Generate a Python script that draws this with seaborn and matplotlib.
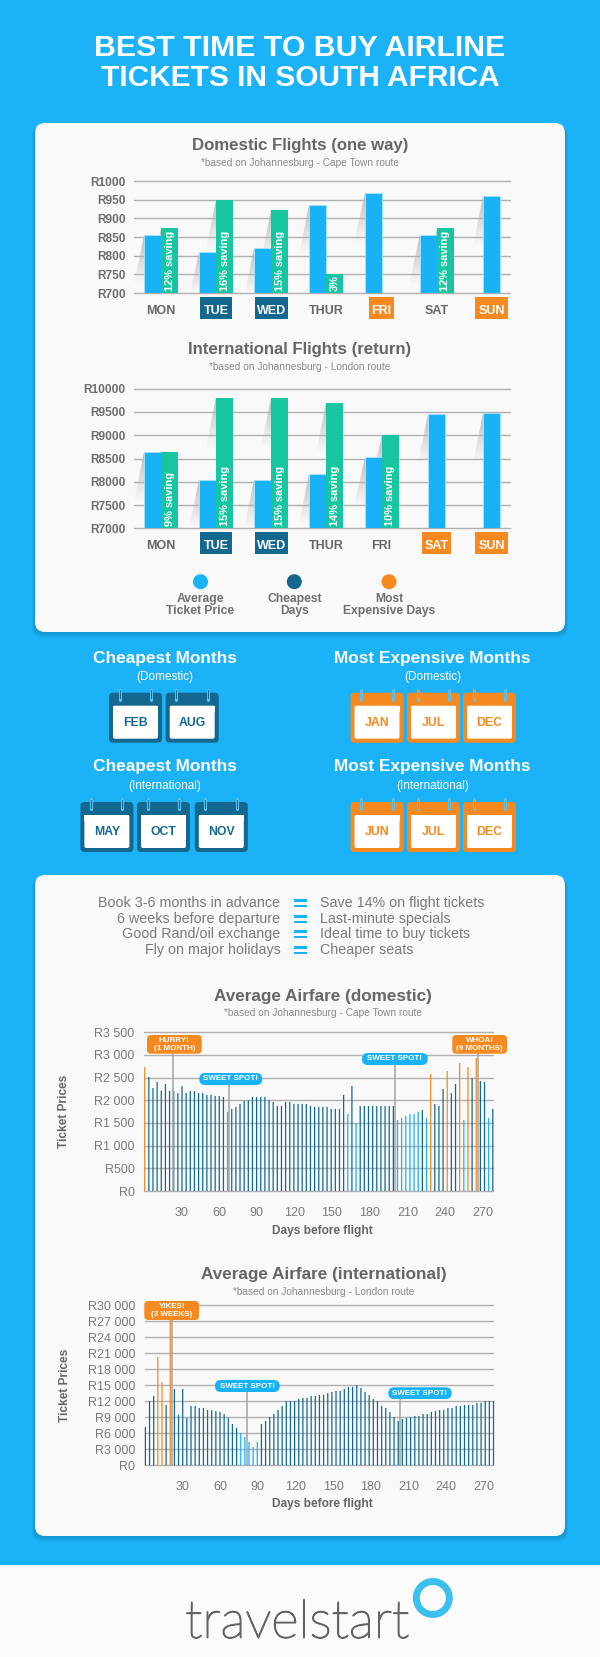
import numpy as np
import pandas as pd
import matplotlib
matplotlib.use("Agg")
import matplotlib.pyplot as plt
import matplotlib.patheffects as pe
from matplotlib.patches import FancyBboxPatch, Rectangle, Circle, Polygon
import seaborn as sns

# ---------- data ----------
days_a = ['MON', 'TUE', 'WED', 'THUR', 'FRI', 'SAT', 'SUN']
dom_avg = [855, 811, 820, 935, 968, 855, 960]
dom_cheap = [874, 950, 923, 750, None, 874, None]
dom_saving = ['12% saving', '16% saving', '15% saving', '3%', None, '12% saving', None]
dom_day_kind = ['', 'cheap', 'cheap', '', 'dear', '', 'dear']
dom_solo_centered = [False, False, False, False, False, False, True]
dom_ticks = [700, 750, 800, 850, 900, 950, 1000]

int_avg = [8640, 8030, 8045, 8167, 8525, 9449, 9484]
int_cheap = [8640, 9800, 9800, 9692, 9000, None, None]
int_saving = ['9% saving', '15% saving', '15% saving', '14% saving', '10% saving', None, None]
int_day_kind = ['', 'cheap', 'cheap', '', '', 'dear', 'dear']
int_solo_centered = [False, False, False, False, False, True, True]
int_ticks = [7000, 7500, 8000, 8500, 9000, 9500, 10000]

legend_labels = ['Average\nTicket Price', 'Cheapest\nDays', 'Most\nExpensive Days']
advice_left = ['Book 3-6 months in advance', '6 weeks before departure',
               'Good Rand/oil exchange', 'Fly on major holidays']
advice_right = ['Save 14% on flight tickets', 'Last-minute specials',
                'Ideal time to buy tickets', 'Cheaper seats']
cheap_dom_months = ['FEB', 'AUG']
dear_dom_months = ['JAN', 'JUL', 'DEC']
cheap_int_months = ['MAY', 'OCT', 'NOV']
dear_int_months = ['JUN', 'JUL', 'DEC']

air_dom = [2735, 2515, 2270, 2405, 2215, 2360, 2205, 2205, 2160, 2315, 2160, 2205, 2205, 2160, 2160,
           2120, 2120, 2095, 2095, 2075, 1745, 1810, 1855, 1920, 1985, 2005, 2075, 2075, 2075, 2075,
           2005, 1965, 1875, 1875, 1965, 1965, 1920, 1920, 1920, 1920, 1875, 1855, 1855, 1855, 1855,
           1810, 1810, 1810, 2120, 1700, 2315, 1500, 1875, 1875, 1875, 1875, 1875, 1875, 1875, 1875,
           1875, 1565, 1610, 1655, 1700, 1700, 1745, 1785, 1610, 2580, 1920, 1875, 2250, 2645, 2160,
           2360, 2825, 1565, 2735, 2490, 2935, 2425, 2405, 1610, 1810]
air_dom_kind = list('ODDDDDDDDDDDDDDDDDDDLDDDDDDDDDDDDDDDDDDDDDDDDDDDDLDLDDDDDDDDDLLLLLLDLODDDODDOLODODDLD')
air_dom_ticks = [0, 500, 1000, 1500, 2000, 2500, 3000, 3500]
air_dom_ticklabels = ['R0', 'R500', 'R1 000', 'R1 500', 'R2 000', 'R2 500', 'R3 000', 'R3 500']

air_int = [7190, 12060, 13000, 20310, 15625, 11310, 27500, 14310, 9440, 14310, 8875, 11125, 11125, 10750,
           10750, 10375, 10375, 10190, 10000, 9625, 8875, 7750, 7000, 6060, 5310, 4375, 3440, 4375, 7750,
           8310, 9060, 9625, 10375, 11125, 12060, 12060, 12060, 12440, 12625, 12625, 13000, 13000, 13190,
           13190, 13560, 13750, 13940, 13940, 14310, 14690, 14690, 15060, 14500, 13750, 13190, 12440, 12060,
           11125, 10750, 10000, 9060, 8310, 8690, 8875, 9060, 9250, 9250, 9625, 9625, 10000, 10190, 10375,
           10375, 10750, 10750, 11125, 11125, 11310, 11310, 11310, 11690, 11690, 12060, 12060, 12060]
air_int_kind = list('DDDOODODDDDDDDDDDDDDDDDLLLLLD' + 'D' * 56)
air_int_ticks = list(range(0, 30001, 3000))
air_int_ticklabels = ['R0', 'R3 000', 'R6 000', 'R9 000', 'R12 000', 'R15 000', 'R18 000',
                      'R21 000', 'R24 000', 'R27 000', 'R30 000']
day_ticks = list(range(30, 271, 30))

# callouts: label, day, top value
dom_callouts = [('HURRY!\n(1 MONTH)', 23.6, 3040), ('SWEET SPOT!', 68, 2340),
                ('SWEET SPOT!', 200, 2800), ('WHOA!\n(9 MONTHS)', 266, 3040)]
int_callouts = [('YIKES!\n(3 WEEKS)', 22, 27200), ('SWEET SPOT!', 81.8, 13800),
                ('SWEET SPOT!', 203.6, 12430)]

# ---------- style ----------
BG = '#1bb2f7'; CARD = '#f9f9f9'; LIGHT = '#1ab2f7'; GREEN = '#17c6a0'
DARK = '#14688f'; ORANGE = '#f6891f'; GRAY = '#666666'; GRAY2 = '#7a7a7a'; GRID = '#b0b0b0'
W, H = 600, 1657

sns.set_theme(style='white')
plt.rcParams['font.family'] = ['Liberation Sans', 'DejaVu Sans']
fig = plt.figure(figsize=(W / 100, H / 100), dpi=100, facecolor=BG)


def px_axes(z):
    a = fig.add_axes([0, 0, 1, 1], zorder=z)
    a.set_xlim(0, W); a.set_ylim(H, 0); a.axis('off')
    return a


bg = px_axes(0)
top = px_axes(10)


def rbox(a, x0, y0, x1, y1, r, color, alpha=1.0, z=2):
    p = FancyBboxPatch((x0 + r, y0 + r), x1 - x0 - 2 * r, y1 - y0 - 2 * r,
                       boxstyle=f'round,pad={r},rounding_size={r}', fc=color, ec='none', alpha=alpha, zorder=z)
    a.add_patch(p)
    return p


def T(a, x, y, s, size, color=GRAY, weight='normal', ha='center', va='center', **kw):
    return a.text(x, y, s, fontsize=size, color=color, fontweight=weight, ha=ha, va=va, **kw)


def card(y0, y1):
    for k in range(7, 0, -1):
        rbox(bg, 35 - k * .4, y0 + k * .5, 565 + k * .4, y1 + k * .9, 10, '#0a5f8f', alpha=.055, z=1)
    rbox(bg, 35, y0, 565, y1, 10, CARD, z=2)


def chart_axes(L, Tp, R, B):
    return fig.add_axes([L / W, 1 - B / H, (R - L) / W, (B - Tp) / H], zorder=5, facecolor='none')


def ax_xy(L, Tp, R, B, px, py):
    return (px - L) / (R - L), (B - py) / (B - Tp)


def clean(ax):
    for s in ax.spines.values():
        s.set_visible(False)
    ax.set_axisbelow(True)
    ax.yaxis.grid(True, color=GRID, lw=1.0)
    ax.xaxis.grid(False)
    ax.tick_params(length=0)
    for g in ax.get_ygridlines():
        g.set_clip_on(False)


# header / footer
T(bg, 300, 47.5, 'BEST TIME TO BUY AIRLINE', 21.8, 'white', 'bold')
T(bg, 300, 77.5, 'TICKETS IN SOUTH AFRICA', 21.5, 'white', 'bold')
bg.add_patch(Rectangle((0, 1565), W, H - 1565, fc='#fbfbfb', ec='none', zorder=1))
card(123, 632)
card(875, 1536)


def add_shadows(ax, B):
    grad = np.zeros((64, 1, 4))
    grad[..., :3] = 0.42
    grad[..., 3] = np.linspace(.42, 0, 64)[:, None]
    for r in ax.patches:
        (x0, _), (_, y1) = ax.transData.transform([(r.get_x(), 0), (r.get_x(), r.get_height())])
        left, tp = x0, H - y1
        L = min(50, B - tp)
        poly = Polygon([(left, tp), (left, tp + L), (left - .21 * L, tp + L)], closed=True, transform=bg.transData)
        im = bg.imshow(grad, extent=(left - .21 * L, left, tp + L, tp), aspect='auto', zorder=3,
                       interpolation='bilinear')
        im.set_clip_path(poly)
    bg.set_xlim(0, W); bg.set_ylim(H, 0)


def day_chart(Tp, B, avg, cheap, savings, kinds, solo, ticks, title, sub, title_y, sub_y, label_pad):
    L, R = 134, 510
    ax = chart_axes(L, Tp, R, B)
    step = 55.1; bw = 17 / step; x0 = 161.1
    pos = np.arange(len(days_a), dtype=float)
    off_avg = np.array([0 if s else -bw / 2 for s in solo])
    sns.barplot(x=pos + off_avg, y=avg, native_scale=True, width=bw, color=LIGHT, saturation=1,
                errorbar=None, linewidth=.6, edgecolor='#a9e0fb', ax=ax)
    g = pd.DataFrame({'x': pos + bw / 2, 'y': cheap}).dropna()
    sns.barplot(x=g['x'].values, y=g['y'].values, native_scale=True, width=bw, color=GREEN, saturation=1,
                errorbar=None, linewidth=0, ax=ax)
    ax.set_xlim((L - x0) / step, (R - x0) / step)
    ax.set_ylim(ticks[0], ticks[-1])
    ax.set_yticks(ticks)
    ax.set_yticklabels([f'R{t}' for t in ticks], fontsize=8.6, color='#6e6e6e', fontweight='bold')
    ax.set_xticks(pos)
    ax.set_xticklabels(days_a, fontsize=9, fontweight='bold', color=GRAY)
    clean(ax)
    ax.tick_params(axis='y', pad=6)
    ax.tick_params(axis='x', pad=label_pad)
    ax.set(xlabel='', ylabel='')
    tx, ty = ax_xy(L, Tp, R, B, 300, title_y)
    ax.set_title(title, x=tx, y=ty, pad=0, fontsize=12.1, fontweight='bold', color=GRAY, va='center')
    T(bg, 300, sub_y, sub, 7.3, '#8a8a8a')
    for p, s in zip(pos, savings):
        if s:
            ax.annotate(s, (p + bw / 2, ticks[0]), xytext=(0, 1.5), textcoords='offset points', rotation=90,
                        ha='center', va='bottom', color='white', fontsize=7.9, fontweight='bold')
    for lbl, k, p in zip(ax.get_xticklabels(), kinds, pos):
        if k:
            lbl.set_color('white')
            w = {'TUE': 32, 'WED': 33.5, 'FRI': 25, 'SAT': 29, 'SUN': 32.5}[lbl.get_text()]
            cx = x0 + p * step
            bg.add_patch(Rectangle((cx - w / 2, B + 4), w, 22, fc=DARK if k == 'cheap' else ORANGE, ec='none', zorder=4))
    add_shadows(ax, B)
    return ax


day_chart(181, 293, dom_avg, dom_cheap, dom_saving, dom_day_kind, dom_solo_centered, dom_ticks,
          'Domestic Flights (one way)', '*based on Johannesburg - Cape Town route', 145.5, 163, 8.5)
day_chart(388.7, 528.3, int_avg, int_cheap, int_saving, int_day_kind, int_solo_centered, int_ticks,
          'International Flights (return)', '*based on Johannesburg - London route', 349.5, 367, 8.5)

# legend
for cx, c, s in zip([200.5, 294.3, 389], [LIGHT, DARK, ORANGE], legend_labels):
    bg.add_patch(Circle((cx, 581.7), 7.5, fc=c, ec='none', zorder=4))
    a, b = s.split('\n')
    T(bg, cx, 599, a, 8.7, '#6e6e6e', 'bold')
    T(bg, cx, 611, b, 8.7, '#6e6e6e', 'bold')


# months
def calendar(x0, y0, label, color):
    x1, y1 = x0 + 53, y0 + 50
    rbox(bg, x0, y0, x1, y1, 4, color, z=3)
    rbox(bg, x0 + 4, y0 + 13, x1 - 4, y1 - 4, 2, 'white', z=4)
    bg.add_patch(Rectangle((x0 + 4, y0 + 13), 45, 6, fc='white', ec='none', zorder=4))
    for rx in (x0 + 10.5, x0 + 42):
        bg.plot([rx, rx], [y0 - 3, y0 + 7], color='#5cc3f3', lw=2.2, solid_capstyle='round', zorder=5)
        bg.plot([rx, rx], [y0 - 2.5, y0 + 5.5], color=color, lw=.8, solid_capstyle='round', zorder=6)
    T(bg, (x0 + x1) / 2, y0 + 30, label, 8.8, color, 'bold', zorder=7)


def month_block(cx, ty, sy, sub, title, months, lefts, cy, color):
    T(bg, cx, ty, title, 12.4, 'white', 'bold')
    T(bg, cx, sy, sub, 8.5, 'white')
    for x, m in zip(lefts, months):
        calendar(x, cy, m, color)


dear_lefts = [350.5, 407, 463]
month_block(164.6, 658, 676.7, '(Domestic)', 'Cheapest Months', cheap_dom_months, [109, 165.7], 692.7, DARK)
month_block(432.5, 658, 676.7, '(Domestic)', 'Most Expensive Months', dear_dom_months, dear_lefts, 692.7, ORANGE)
month_block(164.6, 767, 786, '(International)', 'Cheapest Months', cheap_int_months, [80.4, 137, 194.8], 802, DARK)
month_block(432.5, 767, 786, '(International)', 'Most Expensive Months', dear_int_months, dear_lefts, 802, ORANGE)

# advice table
for y, a, b in zip([903.3, 919.3, 934.3, 950.3], advice_left, advice_right):
    T(bg, 280.5, y, a, 10.25, GRAY2, ha='right')
    T(bg, 319.6, y, b, 10.25, GRAY2, ha='left')
    for dy in (-3.9, 1.4):
        bg.add_patch(Rectangle((294, y + dy), 12.5, 2.5, fc=LIGHT, ec='none', zorder=4))


def air_chart(L, Tp, R, B, values, kinds, yticks, ylabels, title, sub, title_x, title_y, sub_y, px30, px270,
              xlabel_y, ylabel_px, ylabel_py, callouts, badges, tick_pad):
    ax = chart_axes(L, Tp, R, B)
    n = len(values)
    k = (px270 - px30) / 240
    step = 3.3
    first = 30 + (L + .4 - px30) / k
    df = pd.DataFrame({'day': first + step * np.arange(n), 'price': values, 'kind': kinds})
    sns.barplot(data=df, x='day', y='price', hue='kind', palette={'D': DARK, 'L': LIGHT, 'O': ORANGE},
                dodge=False, native_scale=True, width=.3, saturation=1, errorbar=None, linewidth=0,
                legend=False, ax=ax)
    ax.set_xlim(30 + (L - px30) / k, 30 + (R - px30) / k)
    ax.set_ylim(0, yticks[-1])
    for p in ax.patches:
        p.set_clip_on(False)
        p.set_snap(False)
    ax.set_yticks(yticks)
    ax.set_yticklabels(ylabels, fontsize=9, color=GRAY2)
    ax.set_xticks(day_ticks)
    ax.set_xticklabels(day_ticks, fontsize=9, color=GRAY2)
    clean(ax)
    ax.tick_params(axis='y', pad=7)
    ax.tick_params(axis='x', pad=tick_pad)
    ax.set_xlabel('Days before flight', fontsize=8.6, fontweight='bold', color=GRAY)
    ax.xaxis.set_label_coords(*ax_xy(L, Tp, R, B, 322, xlabel_y))
    ax.set_ylabel('Ticket Prices', fontsize=8.6, fontweight='bold', color=GRAY)
    ax.yaxis.set_label_coords(*ax_xy(L, Tp, R, B, ylabel_px, ylabel_py))
    ax.xaxis.label.set_va('center')
    ax.yaxis.label.set_va('center')
    tx, ty = ax_xy(L, Tp, R, B, title_x, title_y)
    ax.set_title(title, x=tx, y=ty, pad=0, fontsize=12.3, fontweight='bold', color=GRAY, va='center')
    T(bg, title_x, sub_y, sub, 7.3, '#8a8a8a')
    for (label, day, topv), (x0, y0, x1, y1, col, r) in zip(callouts, badges):
        ax.plot([day, day], [0, topv], color='#a3a3a3', lw=1.1, clip_on=False, zorder=6)
        rbox(top, x0, y0, x1, y1, r, col, z=3)
        T(top, (x0 + x1) / 2, (y0 + y1) / 2, label, 5.8, 'white', 'bold', linespacing=1.25, zorder=4)
    return ax


air_chart(144.3, 1032.3, 492.7, 1191, air_dom, air_dom_kind, air_dom_ticks, air_dom_ticklabels,
          'Average Airfare (domestic)', '*based on Johannesburg - Cape Town route', 323, 996.7, 1013, 181.3, 482.7,
          1230.7, 64, 1111.7, dom_callouts,
          [(147, 1035, 201.7, 1053.7, ORANGE, 4), (199.3, 1073, 262.3, 1085, LIGHT, 5.8),
           (362, 1053, 427.7, 1065, LIGHT, 5.8), (452.3, 1035, 507, 1053.7, ORANGE, 4)], 11.5)
air_chart(145, 1305.3, 493, 1465.3, air_int, air_int_kind, air_int_ticks, air_int_ticklabels,
          'Average Airfare (international)', '*based on Johannesburg - London route', 323.7, 1274.3, 1291.7, 182.3, 483.7,
          1504, 65, 1385, int_callouts,
          [(144.3, 1301, 199, 1320, ORANGE, 4), (215, 1380, 279.7, 1392, LIGHT, 5.8),
           (388.3, 1387.3, 451.7, 1399, LIGHT, 5.8)], 11.5)

# logo
logo = bg.text(185, 1637.7, 'travelstart', fontsize=38, color='#646464', family=['Lato', 'DejaVu Sans'],
               fontweight='light', ha='left', va='baseline', zorder=4)
logo.set_path_effects([pe.withStroke(linewidth=1.0, foreground='#646464')])
bg.add_patch(Circle((432.8, 1598), 16.5, fc='none', ec='#3bbfef', lw=5.0, zorder=4))

fig.savefig('out.png', dpi=100, facecolor=BG)
